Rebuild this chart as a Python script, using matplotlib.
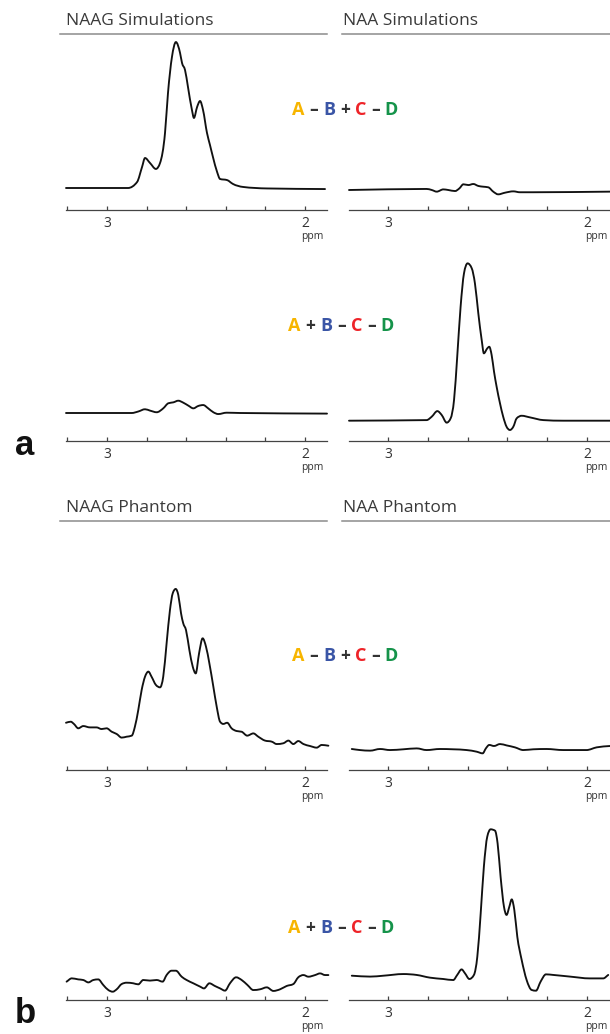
import matplotlib
matplotlib.use("Agg")
import matplotlib.pyplot as plt
from matplotlib.offsetbox import TextArea, HPacker, AnnotationBbox
from matplotlib.ticker import FixedLocator
from matplotlib.path import Path
from matplotlib.patches import PathPatch

# ---------------- data (ppm, intensity in arbitrary units) ----------------
# Simulations, edit A - B + C - D
sim_naag_e1_ppm = [3.207, 2.894, 2.848, 2.823, 2.808, 2.783, 2.753, 2.732, 2.707, 2.692, 2.672, 2.652,
                   2.631, 2.621, 2.606, 2.591, 2.571, 2.561, 2.545, 2.530, 2.515, 2.495, 2.480, 2.465,
                   2.444, 2.429, 2.394, 2.364, 2.313, 2.192, 1.899]
sim_naag_e1_int = [0.0, 0.0, 0.04, 0.14, 0.20, 0.167, 0.127, 0.167, 0.367, 0.633, 0.873, 0.973,
                   0.90, 0.833, 0.787, 0.673, 0.52, 0.467, 0.54, 0.58, 0.52, 0.367, 0.287, 0.207,
                   0.107, 0.06, 0.053, 0.027, 0.007, -0.003, -0.007]
sim_naa_e1_ppm = [3.196, 2.806, 2.780, 2.755, 2.722, 2.697, 2.663, 2.641, 2.621, 2.596, 2.571, 2.546,
                  2.521, 2.496, 2.471, 2.446, 2.412, 2.370, 2.337, 2.270, 1.884]
sim_naa_e1_int = [0.0, 0.007, 0.0, -0.011, 0.004, 0.0, -0.007, 0.011, 0.038, 0.033, 0.04, 0.027,
                  0.022, 0.018, -0.011, -0.029, -0.018, -0.009, -0.015, -0.015, -0.011]
# Simulations, edit A + B - C - D
sim_naag_e2_ppm = [3.207, 2.875, 2.842, 2.808, 2.783, 2.749, 2.716, 2.690, 2.665, 2.640, 2.615, 2.589,
                   2.564, 2.539, 2.514, 2.489, 2.463, 2.438, 2.396, 2.328, 1.889]
sim_naag_e2_int = [0.0, 0.0, 0.01, 0.025, 0.016, 0.005, 0.031, 0.065, 0.071, 0.082, 0.069, 0.049,
                   0.031, 0.047, 0.053, 0.031, 0.005, -0.007, 0.002, 0.0, -0.004]
sim_naa_e2_ppm = [3.196, 2.806, 2.780, 2.752, 2.730, 2.705, 2.685, 2.668, 2.652, 2.635, 2.618, 2.600,
                  2.579, 2.563, 2.546, 2.529, 2.518, 2.501, 2.491, 2.479, 2.467, 2.454, 2.437, 2.421,
                  2.404, 2.387, 2.370, 2.353, 2.328, 2.286, 2.219, 2.119, 1.884]
sim_naa_e2_int = [0.0, 0.004, 0.027, 0.064, 0.038, -0.013, 0.016, 0.138, 0.427, 0.76, 0.982, 1.049,
                  1.016, 0.916, 0.716, 0.538, 0.449, 0.482, 0.493, 0.438, 0.327, 0.227, 0.116, 0.027,
                  -0.04, -0.062, -0.04, 0.016, 0.033, 0.022, 0.004, 0.0, 0.0]
# Phantom, edit A - B + C - D
ph_naag_e1_ppm = [3.207, 3.183, 3.167, 3.145, 3.120, 3.086, 3.053, 3.027, 3.002, 2.976, 2.951, 2.926,
                  2.901, 2.875, 2.859, 2.842, 2.825, 2.808, 2.791, 2.775, 2.753, 2.732, 2.716, 2.699,
                  2.682, 2.668, 2.653, 2.640, 2.626, 2.615, 2.601, 2.584, 2.567, 2.552, 2.535, 2.517,
                  2.500, 2.483, 2.463, 2.446, 2.429, 2.413, 2.393, 2.371, 2.346, 2.320, 2.292, 2.261,
                  2.236, 2.202, 2.168, 2.143, 2.110, 2.084, 2.059, 2.034, 2.008, 1.975, 1.941, 1.916,
                  1.882]
ph_naag_e1_int = [0.115, 0.122, 0.107, 0.078, 0.093, 0.084, 0.084, 0.073, 0.078, 0.055, 0.04, 0.016,
                  0.022, 0.029, 0.089, 0.2, 0.333, 0.422, 0.456, 0.422, 0.367, 0.351, 0.422, 0.644,
                  0.867, 0.978, 1.007, 0.967, 0.844, 0.778, 0.733, 0.6, 0.489, 0.444, 0.578, 0.678,
                  0.622, 0.511, 0.356, 0.222, 0.122, 0.107, 0.115, 0.078, 0.06, 0.055, 0.029, 0.044,
                  0.022, -0.004, -0.011, -0.027, -0.022, -0.004, -0.027, -0.007, -0.027, -0.04, -0.051, -0.033,
                  -0.038]
ph_naa_e1_ppm = [3.182, 3.141, 3.090, 3.040, 2.990, 2.923, 2.856, 2.806, 2.739, 2.672, 2.605, 2.554,
                 2.524, 2.508, 2.491, 2.467, 2.437, 2.404, 2.362, 2.320, 2.270, 2.203, 2.119, 2.052,
                 2.002, 1.951, 1.884]
ph_naa_e1_int = [0.0, -0.007, -0.011, 0.0, -0.007, -0.002, 0.004, -0.007, 0.0, -0.002, -0.007, -0.018,
                 -0.029, 0.004, 0.027, 0.02, 0.033, 0.024, 0.011, -0.007, -0.002, 0.0, -0.007, -0.007,
                 -0.007, 0.011, 0.02]
# Phantom, edit A + B - C - D
ph_naag_e2_ppm = [3.204, 3.178, 3.145, 3.120, 3.094, 3.069, 3.044, 3.019, 2.993, 2.971, 2.951, 2.926,
                  2.901, 2.867, 2.842, 2.817, 2.783, 2.749, 2.719, 2.699, 2.674, 2.652, 2.623, 2.598,
                  2.564, 2.530, 2.510, 2.483, 2.455, 2.429, 2.404, 2.379, 2.348, 2.320, 2.291, 2.261,
                  2.227, 2.193, 2.160, 2.126, 2.093, 2.059, 2.034, 2.008, 1.983, 1.949, 1.924, 1.899,
                  1.882]
ph_naag_e2_int = [-0.011, 0.011, 0.004, 0.0, -0.016, 0.0, 0.004, -0.033, -0.067, -0.078, -0.062, -0.027,
                  -0.018, -0.022, -0.029, 0.0, -0.004, 0.0, -0.011, 0.033, 0.062, 0.062, 0.022, 0.0,
                  -0.022, -0.044, -0.056, -0.022, -0.04, -0.056, -0.071, -0.022, 0.018, 0.0, -0.033, -0.067,
                  -0.062, -0.049, -0.073, -0.062, -0.04, -0.027, 0.018, 0.033, 0.022, 0.033, 0.044, 0.033,
                  0.033]
ph_naa_e2_ppm = [3.182, 3.090, 3.023, 2.923, 2.856, 2.789, 2.722, 2.672, 2.652, 2.630, 2.613, 2.591,
                 2.568, 2.551, 2.534, 2.518, 2.501, 2.484, 2.462, 2.449, 2.434, 2.417, 2.404, 2.390,
                 2.378, 2.365, 2.350, 2.328, 2.303, 2.278, 2.256, 2.233, 2.206, 2.169, 2.085, 1.985,
                 1.918, 1.893]
ph_naa_e2_int = [0.002, -0.004, 0.002, 0.013, 0.007, -0.011, -0.02, -0.027, 0.007, 0.044, 0.018, -0.02,
                 0.007, 0.129, 0.418, 0.729, 0.929, 0.978, 0.969, 0.884, 0.662, 0.462, 0.407, 0.462,
                 0.511, 0.44, 0.262, 0.107, -0.027, -0.093, -0.098, -0.038, 0.011, 0.007, -0.004, -0.016,
                 -0.016, 0.007]

major_ticks = [3.0, 2.0]
major_labels = ["3", "2"]
minor_ticks = [3.2, 2.8, 2.6, 2.4, 2.2]

headers = ["NAAG Simulations", "NAA Simulations", "NAAG Phantom", "NAA Phantom"]
edit1_parts = ["A", "–", "B", "+", "C", "–", "D"]
edit2_parts = ["A", "+", "B", "–", "C", "–", "D"]
letter_colors = {"A": "#F7B500", "B": "#3A55A6", "C": "#EE2328", "D": "#15934A"}

# ---------------- layout ----------------
plt.rcParams['font.family'] = ['Open Sans', 'DejaVu Sans']
W, H = 610, 1034
fig = plt.figure(figsize=(W / 100, H / 100), dpi=100)
SCALE = 150.0
INK = '#333333'
AXC = '#444444'


def px_rect(x0, x1, ytop, ybot):
    return [x0 / W, 1 - ybot / H, (x1 - x0) / W, (ybot - ytop) / H]


def _sign(v):
    return (v > 0) - (v < 0)


def smooth_path(x, y):
    """Monotone-in-x cubic Bezier path that passes through the read points."""
    n = len(x)
    h = [x[i + 1] - x[i] for i in range(n - 1)]
    s = [(y[i + 1] - y[i]) / h[i] for i in range(n - 1)]
    m = [0.0] * n
    m[0] = s[0]
    m[-1] = s[-1]
    for i in range(1, n - 1):
        h0, h1 = abs(h[i - 1]), abs(h[i])
        p = (s[i - 1] * h1 + s[i] * h0) / (h0 + h1)
        m[i] = (_sign(s[i - 1]) + _sign(s[i])) * min(abs(s[i - 1]), abs(s[i]), 0.5 * abs(p))
    verts = [(x[0], y[0])]
    codes = [Path.MOVETO]
    for i in range(n - 1):
        d = h[i] / 3.0
        verts += [(x[i] + d, y[i] + m[i] * d),
                  (x[i + 1] - d, y[i + 1] - m[i + 1] * d),
                  (x[i + 1], y[i + 1])]
        codes += [Path.CURVE4] * 3
    return Path(verts, codes)


def panel(x0, x1, ytop, yaxis, ybase, xlim, ppm, inten, ppm_dx):
    ax = fig.add_axes(px_rect(x0, x1, ytop, yaxis))
    ax.patch.set_visible(False)
    ax.add_patch(PathPatch(smooth_path(ppm, inten), fill=False, edgecolor='#111111',
                           lw=1.35, clip_on=False, joinstyle='round', capstyle='round'))
    ax.set_xlim(*xlim)
    ax.set_ylim(-(yaxis - ybase) / SCALE, (ybase - ytop) / SCALE)
    for s in ['top', 'right', 'left']:
        ax.spines[s].set_visible(False)
    ax.spines['bottom'].set_color(AXC)
    ax.spines['bottom'].set_linewidth(0.9)
    ax.set_yticks([])
    ax.xaxis.set_major_locator(FixedLocator(major_ticks))
    ax.set_xticklabels(major_labels)
    ax.xaxis.set_minor_locator(FixedLocator(minor_ticks))
    ax.tick_params(axis='x', which='both', direction='in', length=3, width=0.9,
                   color=AXC, pad=4.5, labelsize=10, labelcolor=INK)
    ax.annotate('ppm', xy=(2.0, 0), xycoords=('data', 'axes fraction'),
                xytext=(ppm_dx, -27), textcoords='offset pixels',
                ha='center', va='center', fontsize=7.5, color=INK,
                annotation_clip=False)
    return ax


LX = (66, 327, (3.207, 1.889), 7)
RX = (349, 610, (3.196, 1.884), 9)

rows = [
    # ytop, yaxis, left ybase, right ybase, left data, right data
    (40, 210, 188, 190, (sim_naag_e1_ppm, sim_naag_e1_int), (sim_naa_e1_ppm, sim_naa_e1_int)),
    (250, 440.5, 413, 420.7, (sim_naag_e2_ppm, sim_naag_e2_int), (sim_naa_e2_ppm, sim_naa_e2_int)),
    (540, 770, 740, 749, (ph_naag_e1_ppm, ph_naag_e1_int), (ph_naa_e1_ppm, ph_naa_e1_int)),
    (800, 1000, 980, 976, (ph_naag_e2_ppm, ph_naag_e2_int), (ph_naa_e2_ppm, ph_naa_e2_int)),
]
for ytop, yaxis, lb, rb, ld, rd in rows:
    panel(LX[0], LX[1], ytop, yaxis, lb, LX[2], ld[0], ld[1], LX[3])
    panel(RX[0], RX[1], ytop, yaxis, rb, RX[2], rd[0], rd[1], RX[3])

# overlay in pixel coordinates
ov = fig.add_axes([0, 0, 1, 1])
ov.set_xlim(0, W)
ov.set_ylim(H, 0)
ov.axis('off')

# headers
for (txt, x, yb, lx0, lx1, ly) in [
    (headers[0], 66, 25, 60, 327, 34),
    (headers[1], 343, 25, 342, 612, 34),
    (headers[2], 66, 512, 60, 327, 521),
    (headers[3], 343, 512, 342, 612, 521),
]:
    ov.text(x, yb, txt, fontsize=12.5, color='#3a3a3a', ha='left', va='baseline')
    ov.plot([lx0, lx1], [ly, ly], color='#8c8c8c', lw=1.1, clip_on=False)


def formula(x, y, parts):
    boxes = []
    for p in parts:
        if p in letter_colors:
            boxes.append(TextArea(p, textprops=dict(color=letter_colors[p], fontsize=13,
                                                    fontweight='bold')))
        else:
            boxes.append(TextArea(p, textprops=dict(color=INK, fontsize=12.5,
                                                    fontweight='bold')))
    pack = HPacker(children=boxes, align='baseline', pad=0, sep=3.5)
    ab = AnnotationBbox(pack, (x, y), xycoords='data', frameon=False,
                        box_alignment=(0.5, 0.5), annotation_clip=False)
    ov.add_artist(ab)


formula(345, 110, edit1_parts)
formula(341, 326, edit2_parts)
formula(345, 656, edit1_parts)
formula(341, 928, edit2_parts)

ov.text(25, 455, "a", fontsize=25, fontweight='bold', family='Liberation Sans',
        color='#111111', ha='center', va='baseline')
ov.text(25, 1023, "b", fontsize=25, fontweight='bold', family='Liberation Sans',
        color='#111111', ha='center', va='baseline')

fig.savefig("out.png", dpi=100)
